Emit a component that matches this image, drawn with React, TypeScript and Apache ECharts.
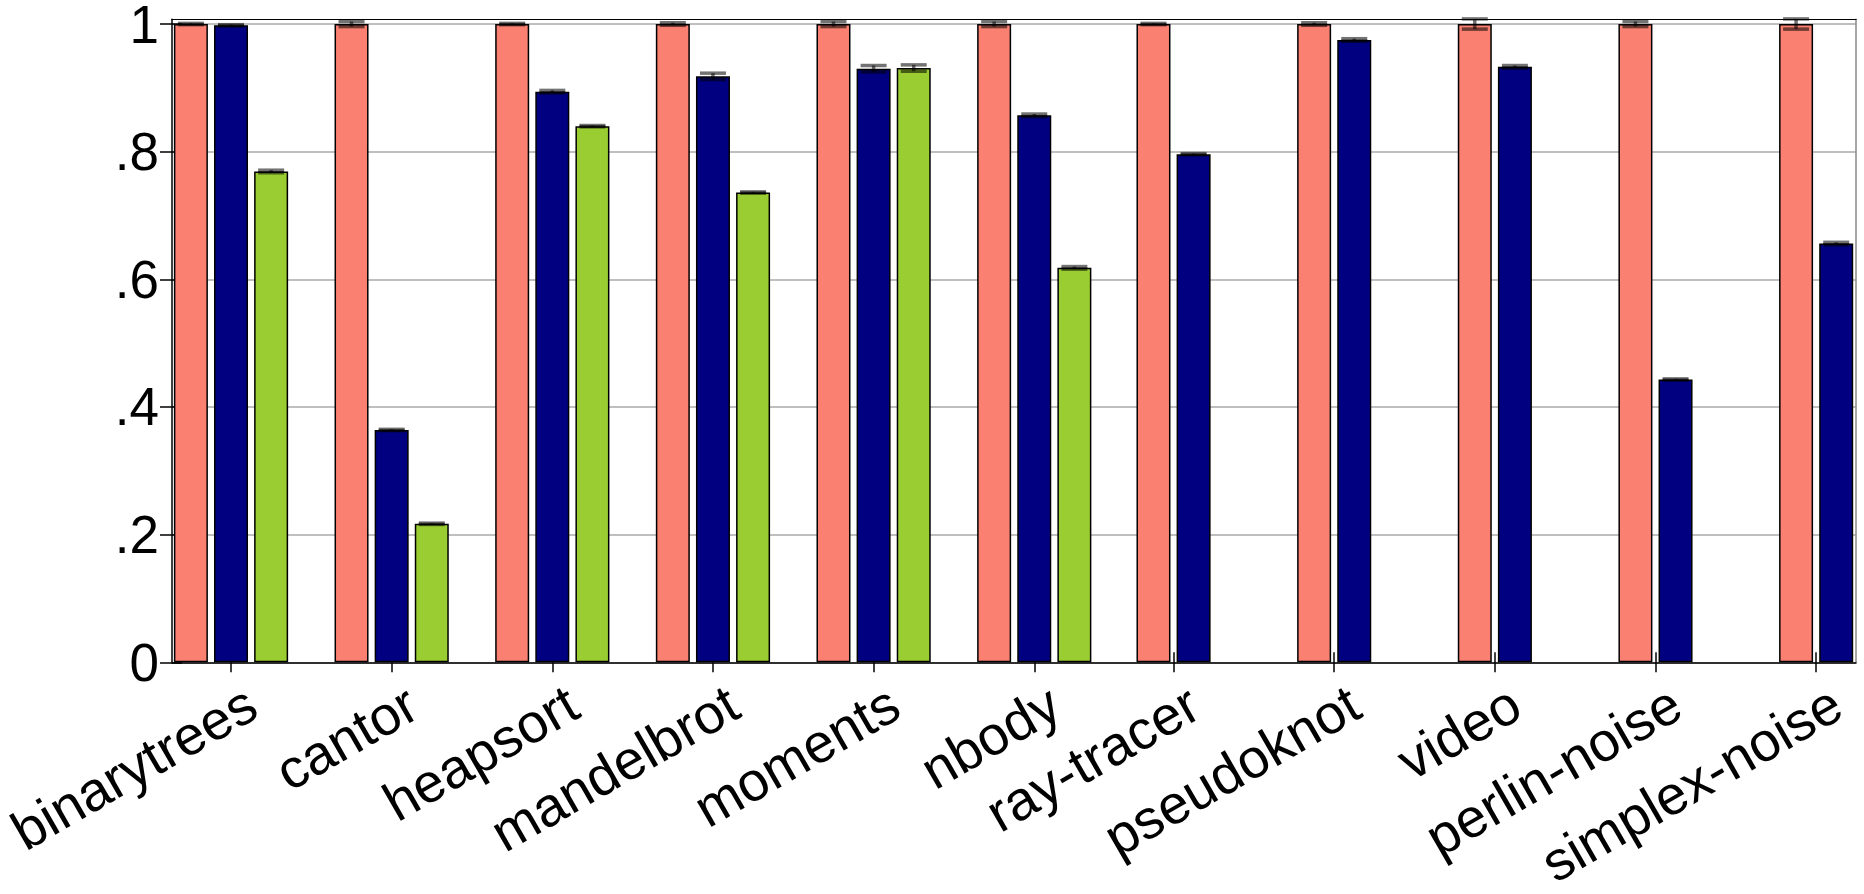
import { useEffect, useRef } from 'react';
import * as echarts from 'echarts';

const categories = ['binarytrees', 'cantor', 'heapsort', 'mandelbrot', 'moments', 'nbody', 'ray-tracer', 'pseudoknot', 'video', 'perlin-noise', 'simplex-noise'];
const salmonValues = [1, 1, 1, 1, 1, 1, 1, 1, 1, 1, 1];
const blueValues = [0.998, 0.364, 0.894, 0.918, 0.930, 0.857, 0.796, 0.975, 0.933, 0.443, 0.656];
const greenValues = [0.769, 0.217, 0.840, 0.736, 0.931, 0.618];
const salmonErrors = [0.001, 0.004, 0.001, 0.002, 0.004, 0.004, 0.001, 0.002, 0.008, 0.004, 0.008];
const blueErrors = [0.001, 0.001, 0.002, 0.005, 0.005, 0.002, 0.001, 0.002, 0.002, 0.001, 0.002];
const greenErrors = [0.002, 0.001, 0.001, 0.001, 0.005, 0.002];
const yTicks = [0, 0.2, 0.4, 0.6, 0.8, 1];
const yTickLabels = ['0', '.2', '.4', '.6', '.8', '1'];

const threeIdx = [0, 1, 2, 3, 4, 5];
const twoIdx = [6, 7, 8, 9, 10];

const X_MIN = -0.3673;
const X_MAX = 10.1151;
const SHIFT = 0.133;
const LABEL_OFF = 0.13;
const BAR_W = 34;
const PITCH = 40.12;
const FONT = "'Liberation Sans', Arial, Helvetica, sans-serif";

const COLORS = { salmon: '#FA8072', blue: '#000080', green: '#9ACD32' };

function barSeries(values: number[], idxs: number[], axis: number, color: string) {
  return {
    type: 'bar',
    xAxisIndex: axis,
    yAxisIndex: 0,
    barWidth: BAR_W,
    barGap: '18%',
    data: idxs.map((i) => [i, values[i]]),
    itemStyle: { color, borderColor: '#000', borderWidth: 1.5 },
    z: 3,
  };
}

function errSeries(values: number[], errors: number[], idxs: number[], axis: number, offset: number) {
  return {
    type: 'custom',
    xAxisIndex: axis,
    yAxisIndex: 0,
    z: 6,
    data: idxs.map((i) => [i, values[i], errors[i]]),
    renderItem: (_params: any, api: any) => {
      const x = api.value(0);
      const y = api.value(1);
      const e = api.value(2);
      const top = api.coord([x, y + e]);
      const bot = api.coord([x, y - e]);
      const cx = top[0] + offset;
      const hw = 13;
      const style = { stroke: 'rgba(0,0,0,0.55)', lineWidth: 3.5 };
      return {
        type: 'group',
        children: [
          { type: 'line', shape: { x1: cx, y1: top[1], x2: cx, y2: bot[1] }, style },
          { type: 'line', shape: { x1: cx - hw, y1: top[1], x2: cx + hw, y2: top[1] }, style },
          { type: 'line', shape: { x1: cx - hw, y1: bot[1], x2: cx + hw, y2: bot[1] }, style },
        ],
      };
    },
  };
}

export default function App() {
  const ref = useRef<HTMLDivElement>(null);
  useEffect(() => {
    if (!ref.current) return;
    const chart = echarts.init(ref.current, undefined, { renderer: 'svg' });
    const labelFmt = (v: number) => categories[Math.round(v)] ?? '';
    const xLabelStyle = {
      rotate: 30,
      fontSize: 55,
      fontFamily: FONT,
      color: '#000',
      margin: 37,
    };
    const option: any = {
      animation: false,
      backgroundColor: '#fff',
      grid: { left: 172, right: 8, top: 19.3, bottom: 231.7, show: false, containLabel: false, outerBoundsMode: 'none' },
      xAxis: [
        {
          type: 'value', position: 'bottom', min: X_MIN, max: X_MAX,
          axisLine: { show: true, onZero: false, lineStyle: { color: '#000', width: 1.5 } },
          axisTick: { show: true, customValues: threeIdx, length: 10, inside: false, lineStyle: { color: '#000', width: 1.5 } },
          axisLabel: { ...xLabelStyle, customValues: threeIdx.map((i) => i + LABEL_OFF), formatter: labelFmt },
          splitLine: { show: false },
        },
        {
          type: 'value', position: 'bottom', min: X_MIN + SHIFT, max: X_MAX + SHIFT,
          axisLine: { show: false, onZero: false },
          axisTick: { show: true, customValues: twoIdx, length: 10, inside: false, lineStyle: { color: '#000', width: 1.5 } },
          axisLabel: { ...xLabelStyle, customValues: twoIdx.map((i) => i + LABEL_OFF), formatter: labelFmt },
          splitLine: { show: false },
        },
        {
          type: 'value', position: 'bottom', min: X_MIN + SHIFT, max: X_MAX + SHIFT,
          axisLine: { show: false, onZero: false },
          axisTick: { show: true, customValues: twoIdx, length: 10, inside: true, lineStyle: { color: '#000', width: 1.5 } },
          axisLabel: { show: false },
          splitLine: { show: false },
        },
        {
          type: 'value', position: 'top', min: X_MIN, max: X_MAX,
          axisLine: { show: true, onZero: false, lineStyle: { color: '#000', width: 1.2 } },
          axisTick: { show: false },
          axisLabel: { show: false },
          splitLine: { show: false },
        },
      ],
      yAxis: [
        {
          type: 'value', position: 'left', min: 0, max: 1.0074,
          axisLine: { show: true, onZero: false, lineStyle: { color: '#000', width: 1.5 } },
          axisTick: { show: true, customValues: yTicks, length: 12, inside: false, lineStyle: { color: '#000', width: 1.5 } },
          axisLabel: {
            customValues: yTicks,
            fontSize: 53,
            lineHeight: 40,
            fontFamily: FONT,
            color: '#000',
            margin: 13,
            formatter: (v: number) => {
              const k = yTicks.findIndex((t) => Math.abs(t - v) < 1e-6);
              return k >= 0 ? yTickLabels[k] : '';
            },
          },
          splitLine: { show: true, lineStyle: { color: '#aaaaaa', width: 1.5 } },
        },
        {
          type: 'value', position: 'left', min: 0, max: 1.0074,
          axisLine: { show: false, onZero: false },
          axisTick: { show: true, customValues: yTicks, length: 10, inside: true, lineStyle: { color: '#000', width: 1.5 } },
          axisLabel: { show: false },
          splitLine: { show: false },
        },
        {
          type: 'value', position: 'right', min: 0, max: 1.0074,
          axisLine: { show: true, onZero: false, lineStyle: { color: '#888', width: 1.5 } },
          axisTick: { show: false },
          axisLabel: { show: false },
          splitLine: { show: false },
        },
      ],
      series: [
        barSeries(salmonValues, threeIdx, 0, COLORS.salmon),
        barSeries(blueValues, threeIdx, 0, COLORS.blue),
        barSeries(greenValues, threeIdx, 0, COLORS.green),
        barSeries(salmonValues, twoIdx, 1, COLORS.salmon),
        barSeries(blueValues, twoIdx, 1, COLORS.blue),
        errSeries(salmonValues, salmonErrors, threeIdx, 0, -PITCH),
        errSeries(blueValues, blueErrors, threeIdx, 0, 0),
        errSeries(greenValues, greenErrors, threeIdx, 0, PITCH),
        errSeries(salmonValues, salmonErrors, twoIdx, 1, -PITCH / 2),
        errSeries(blueValues, blueErrors, twoIdx, 1, PITCH / 2),
      ],
    };
    chart.setOption(option);
    return () => chart.dispose();
  }, []);
  return <div ref={ref} style={{ position: 'absolute', left: 0, top: 0, width: 1864, height: 894 }} />;
}
